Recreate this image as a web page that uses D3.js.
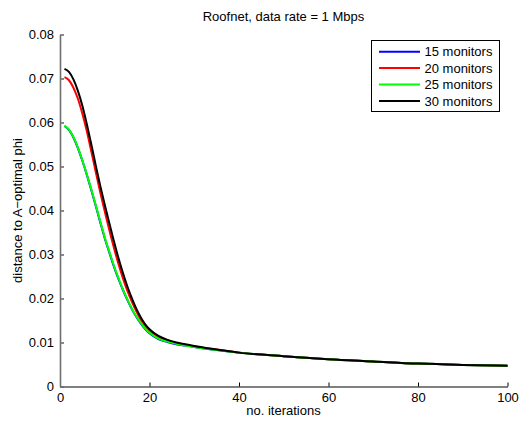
<!DOCTYPE html>
<html>
<head>
<meta charset="utf-8">
<script src="https://cdn.jsdelivr.net/npm/d3@7"></script>
<style>
  html, body { margin: 0; padding: 0; background: #fff; }
  svg { display: block; font-family: "Liberation Sans", Arial, Helvetica, sans-serif; }
</style>
</head>
<body>
<svg id="chart" width="520" height="423"></svg>
<script>
// Iterations at which the distance was sampled
const iterations = [1, 2, 3, 4, 5, 6, 7, 8, 9, 10, 11, 12, 13, 14, 15, 16, 17, 18, 19, 20,
  22, 24, 26, 28, 30, 35, 40, 50, 60, 70, 80, 90, 100];

// Distance to the A-optimal phi for each number of monitors
const monitors15 = [0.0592, 0.0583, 0.0566, 0.0542, 0.0513, 0.0481, 0.0446, 0.0410, 0.0373, 0.0337,
  0.0305, 0.0274, 0.0246, 0.0221, 0.0198, 0.0177, 0.0159, 0.0144, 0.0131, 0.0121,
  0.0108, 0.0101, 0.0096, 0.0093, 0.0090, 0.0083, 0.0077, 0.0069, 0.0062, 0.0057, 0.0052, 0.0049, 0.0047];
const monitors20 = [0.0703, 0.0696, 0.0679, 0.0654, 0.0620, 0.0580, 0.0534, 0.0487, 0.0441, 0.0398,
  0.0356, 0.0317, 0.0281, 0.0248, 0.0219, 0.0194, 0.0172, 0.0153, 0.0138, 0.0127,
  0.0113, 0.0105, 0.0099, 0.0095, 0.0091, 0.0084, 0.0077, 0.0069, 0.0062, 0.0057, 0.0052, 0.0049, 0.0047];
const monitors25 = [0.0593, 0.0584, 0.0567, 0.0543, 0.0514, 0.0482, 0.0448, 0.0412, 0.0375, 0.0339,
  0.0307, 0.0276, 0.0248, 0.0222, 0.0199, 0.0178, 0.0160, 0.0145, 0.0132, 0.0122,
  0.0109, 0.0102, 0.0097, 0.0093, 0.0090, 0.0083, 0.0077, 0.0069, 0.0062, 0.0057, 0.0052, 0.0049, 0.0047];
const monitors30 = [0.0722, 0.0715, 0.0698, 0.0672, 0.0638, 0.0596, 0.0550, 0.0502, 0.0456, 0.0413,
  0.0372, 0.0332, 0.0294, 0.0260, 0.0229, 0.0202, 0.0178, 0.0158, 0.0142, 0.0130,
  0.0115, 0.0106, 0.0100, 0.0096, 0.0092, 0.0084, 0.0077, 0.0069, 0.0062, 0.0057, 0.0052, 0.0049, 0.0047];

const seriesNames = ["15 monitors", "20 monitors", "25 monitors", "30 monitors"];
const seriesValues = [monitors15, monitors20, monitors25, monitors30];
const seriesColors = ["#0000ff", "#ff0000", "#00ff00", "#000000"];

const xTicks = [0, 20, 40, 60, 80, 100];
const yTicks = [0, 0.01, 0.02, 0.03, 0.04, 0.05, 0.06, 0.07, 0.08];

const titleText = "Roofnet, data rate = 1 Mbps";
const xLabel = "no. iterations";
const yLabel = "distance to A\u2212optimal phi";

const svg = d3.select("#chart");

const x = d3.scaleLinear().domain([0, 100]).range([60, 507.5]);
const y = d3.scaleLinear().domain([0, 0.08]).range([386.5, 34.5]);

// Curves, drawn in legend order so later series sit on top
const line = d3.line()
  .x((d, i) => x(iterations[i]))
  .y(d => y(d))
  .curve(d3.curveMonotoneX);

svg.append("g")
  .selectAll("path")
  .data(seriesValues)
  .join("path")
  .attr("d", d => line(d))
  .attr("fill", "none")
  .attr("stroke", (d, i) => seriesColors[i])
  .attr("stroke-width", 2)
  .attr("stroke-linejoin", "round");

// Axes with inward-pointing ticks
const xAxis = d3.axisBottom(x)
  .tickValues(xTicks)
  .tickFormat(d3.format("d"))
  .tickSizeInner(-4)
  .tickSizeOuter(0)
  .tickPadding(6);

const yAxis = d3.axisLeft(y)
  .tickValues(yTicks)
  .tickFormat(d => d === 0 ? "0" : d3.format(".2f")(d))
  .tickSizeInner(-4)
  .tickSizeOuter(0)
  .tickPadding(6);

const gx = svg.append("g")
  .attr("transform", "translate(0,386.5)")
  .call(xAxis);
const gy = svg.append("g")
  .attr("transform", `translate(${x(0)},0)`)
  .call(yAxis);

[gx, gy].forEach(g => {
  g.selectAll("path.domain").attr("stroke", "#000").attr("stroke-width", 1);
  g.selectAll(".tick line").attr("stroke", "#000");
  g.selectAll(".tick text")
    .attr("fill", "#000")
    .style("font-family", "'Liberation Sans', Arial, Helvetica, sans-serif")
    .style("font-size", "13px");
});
gy.selectAll("path.domain, .tick line").attr("stroke", "#6e6e6e").attr("stroke-width", 1.6);

// Titles
svg.append("text")
  .attr("x", 283.5)
  .attr("y", 20.5)
  .attr("text-anchor", "middle")
  .style("font-size", "13px")
  .text(titleText);

svg.append("text")
  .attr("x", 283.5)
  .attr("y", 415)
  .attr("text-anchor", "middle")
  .style("font-size", "13px")
  .text(xLabel);

svg.append("text")
  .attr("transform", "translate(22,210.5) rotate(-90)")
  .attr("text-anchor", "middle")
  .style("font-size", "13px")
  .text(yLabel);

// Legend
const legend = svg.append("g");
legend.append("rect")
  .attr("x", 371.5)
  .attr("y", 40.5)
  .attr("width", 128)
  .attr("height", 71)
  .attr("fill", "#fff")
  .attr("stroke", "#000")
  .attr("stroke-width", 1);

const rows = legend.selectAll("g.row")
  .data(seriesNames)
  .join("g")
  .attr("class", "row")
  .attr("transform", (d, i) => `translate(0,${51.7 + i * 16.4})`);

rows.append("line")
  .attr("x1", 379)
  .attr("x2", 420)
  .attr("y1", 0)
  .attr("y2", 0)
  .attr("stroke", (d, i) => seriesColors[i])
  .attr("stroke-width", 2);

rows.append("text")
  .attr("x", 424.5)
  .attr("y", 0)
  .attr("dy", "0.36em")
  .style("font-size", "13px")
  .text(d => d);
</script>
</body>
</html>
